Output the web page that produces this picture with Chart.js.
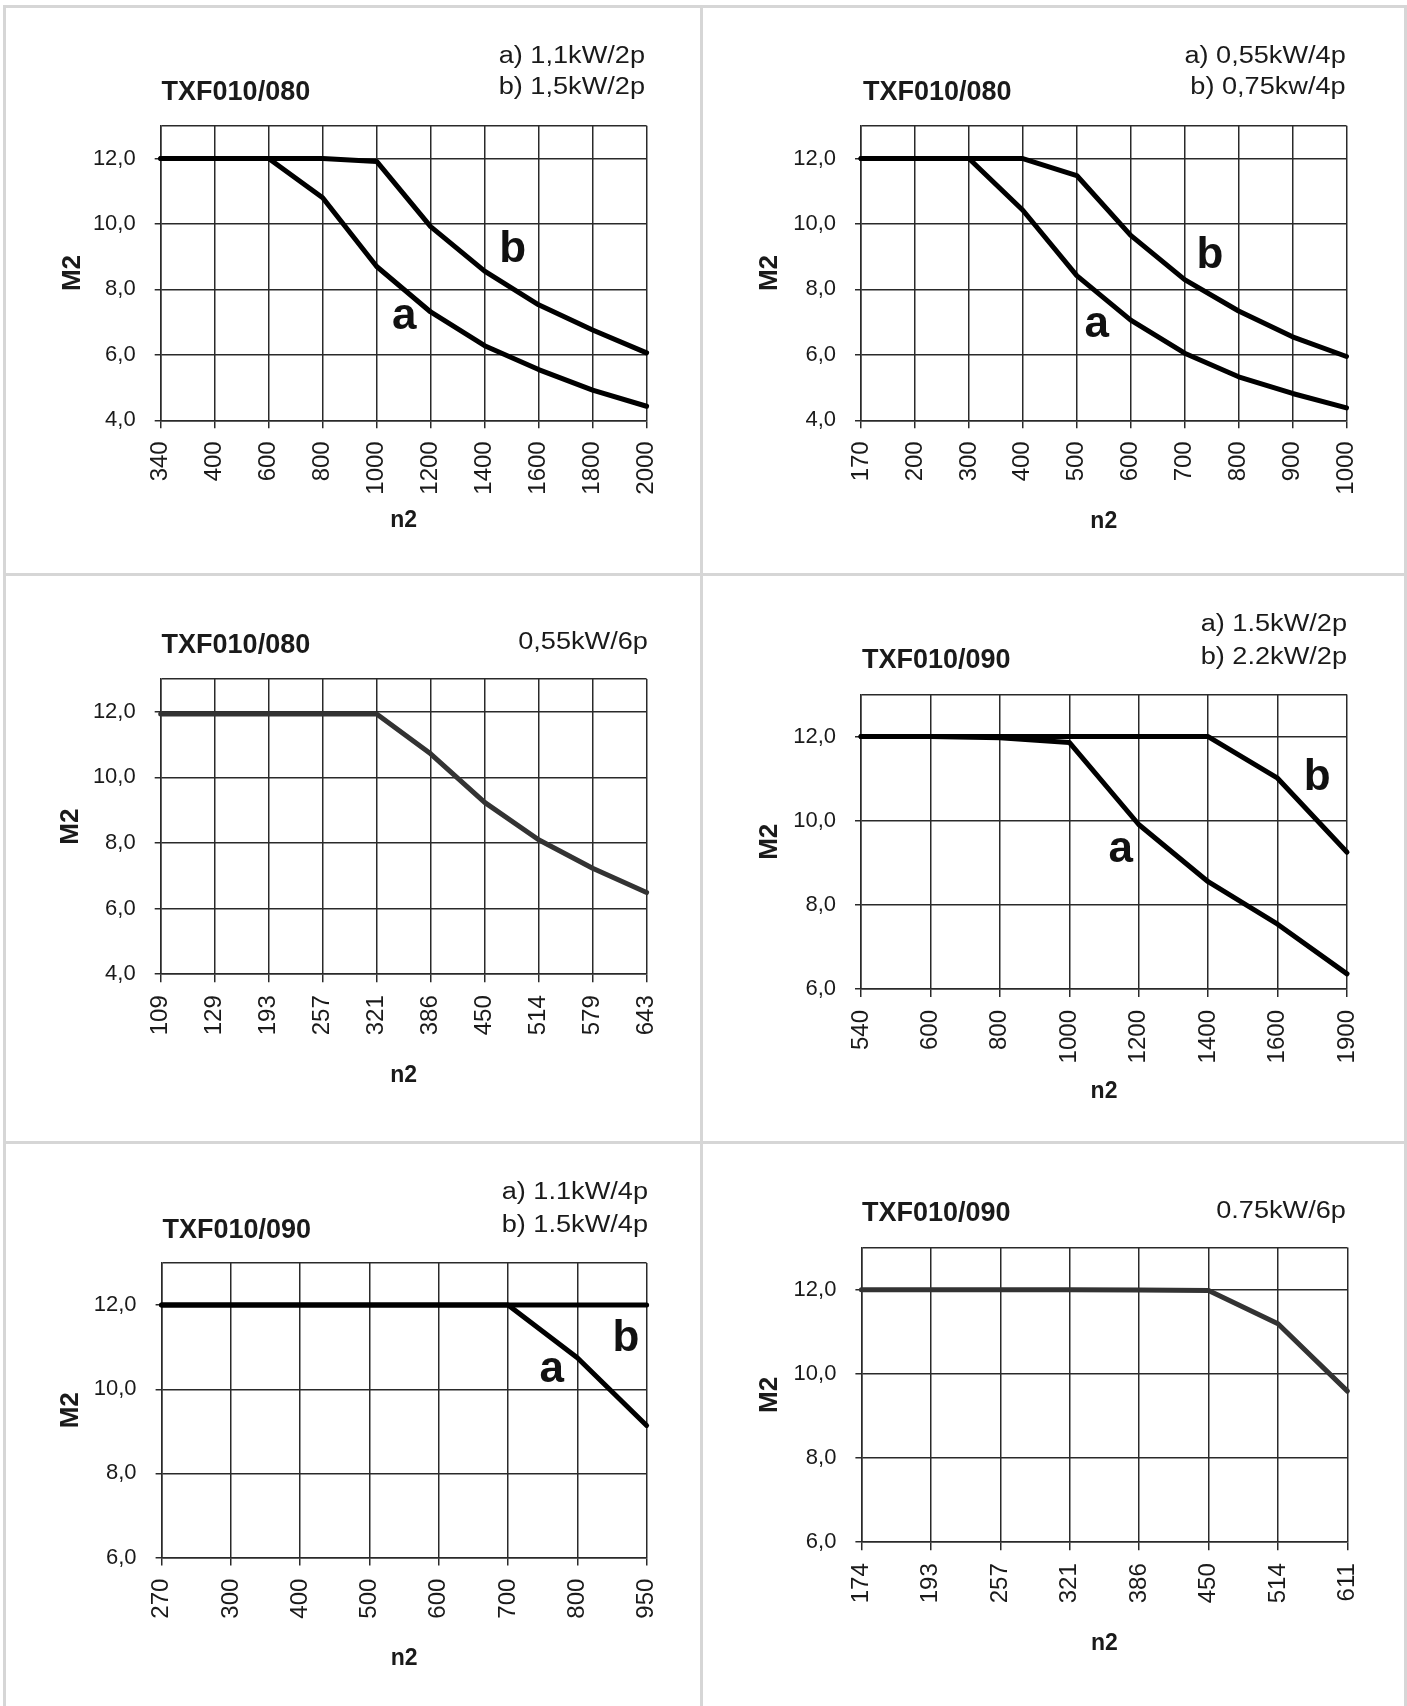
<!DOCTYPE html>
<html>
<head>
<meta charset="utf-8">
<script src="https://cdn.jsdelivr.net/npm/chart.js@4.4.1/dist/chart.umd.min.js"></script>
<style>
  html, body { margin: 0; padding: 0; background: #fff; }
  #page { position: relative; width: 1407px; height: 1706px; overflow: hidden;
          font-family: "Liberation Sans", Arial, sans-serif; color: #1a1a1a; }
  .rule { position: absolute; background: #d6d6d6; }
  .cell { position: absolute; }
  .ttl { position: absolute; font-weight: bold; font-size: 27px; line-height: 27px; white-space: nowrap; }
  .leg { position: absolute; font-size: 23px; line-height: 23px; white-space: nowrap; text-align: right;
         transform: scaleX(1.18); transform-origin: 100% 50%; }
</style>
</head>
<body>
<div id="page"></div>
<script>
// n2 speeds (x categories) and M2 torque values per panel
const speeds1 = [340, 400, 600, 800, 1000, 1200, 1400, 1600, 1800, 2000];
const torque1a = [12, 12, 12, 10.8, 8.7, 7.31, 6.28, 5.55, 4.92, 4.43];
const torque1b = [12, 12, 12, 12, 11.91, 9.92, 8.56, 7.53, 6.76, 6.06];

const speeds2 = [170, 200, 300, 400, 500, 600, 700, 800, 900, 1000];
const torque2a = [12, 12, 12, 10.42, 8.42, 7.06, 6.05, 5.33, 4.82, 4.38];
const torque2b = [12, 12, 12, 12, 11.48, 9.65, 8.3, 7.34, 6.55, 5.95];

const speeds3 = [109, 129, 193, 257, 321, 386, 450, 514, 579, 643];
const torque3 = [11.93, 11.93, 11.93, 11.93, 11.93, 10.72, 9.24, 8.1, 7.23, 6.49];

const speeds4 = [540, 600, 800, 1000, 1200, 1400, 1600, 1900];
const torque4a = [12, 12, 11.97, 11.86, 9.91, 8.55, 7.54, 6.36];
const torque4b = [12, 12, 12, 12, 12, 12, 11.01, 9.25];

const speeds5 = [270, 300, 400, 500, 600, 700, 800, 950];
const torque5a = [12, 12, 12, 12, 12, 12, 10.75, 9.14];
const torque5b = [12, 12, 12, 12, 12, 12, 12, 12];

const speeds6 = [174, 193, 257, 321, 386, 450, 514, 611];
const torque6 = [12, 12, 12, 12, 11.99, 11.98, 11.19, 9.59];

// y ticks (13 is only the top frame line, no label)
const ticksFrom4 = [4, 6, 8, 10, 12, 13];
const ticksFrom6 = [6, 8, 10, 12, 13];

const FONT = '"Liberation Sans", Arial, sans-serif';

// page layout: cells of the 2x3 table
const colX = [6, 703], colW = [694, 701];
const rowY = [8, 576, 1144], rowH = [565, 565, 562];

const panels = [
    { col: 0, row: 0, title: 'TXF010/080', legend: ['a) 1,1kW/2p', 'b) 1,5kW/2p'],
      labels: speeds1, series: [torque1a, torque1b], color: '#000', yTicks: ticksFrom4,
      plot: [160.7, 125.8, 646.6, 420.3], titleAt: [161.6, 100.6], legendAt: [644.5, 63.5, 94],
      n2y: 520.7, m2x: 73,
      marks: [{ text: 'a', at: 4.51, v: 6.80 }, { text: 'b', at: 6.52, v: 8.83 }] },
    { col: 1, row: 0, title: 'TXF010/080', legend: ['a) 0,55kW/4p', 'b) 0,75kw/4p'],
      labels: speeds2, series: [torque2a, torque2b], color: '#000', yTicks: ticksFrom4,
      plot: [861, 125.8, 1346.5, 420.3], titleAt: [863, 100.6], legendAt: [1345.6, 63.5, 94],
      n2y: 521.6, m2x: 770,
      marks: [{ text: 'a', at: 4.37, v: 6.55 }, { text: 'b', at: 6.47, v: 8.65 }] },
    { col: 0, row: 1, title: 'TXF010/080', legend: ['0,55kW/6p'],
      labels: speeds3, series: [torque3], color: '#333', yTicks: ticksFrom4,
      plot: [160.7, 679, 646.6, 974.2], titleAt: [161.6, 653.8], legendAt: [648, 649.4],
      n2y: 1075.6, m2x: 71, marks: [] },
    { col: 1, row: 1, title: 'TXF010/090', legend: ['a) 1.5kW/2p', 'b) 2.2kW/2p'],
      labels: speeds4, series: [torque4a, torque4b], color: '#000', yTicks: ticksFrom6,
      plot: [861, 694.5, 1347, 989], titleAt: [862, 669], legendAt: [1347, 631, 664],
      n2y: 1092, m2x: 770,
      marks: [{ text: 'a', at: 3.74, v: 9.03 }, { text: 'b', at: 6.57, v: 10.72 }] },
    { col: 0, row: 2, title: 'TXF010/090', legend: ['a) 1.1kW/4p', 'b) 1.5kW/4p'],
      labels: speeds5, series: [torque5a, torque5b], color: '#000', yTicks: ticksFrom6,
      plot: [161.6, 1263, 646.6, 1557.6], titleAt: [162.5, 1238.4], legendAt: [647.5, 1199.8, 1232.9],
      n2y: 1659, m2x: 71,
      marks: [{ text: 'a', at: 5.63, v: 10.17 }, { text: 'b', at: 6.70, v: 10.91 }] },
    { col: 1, row: 2, title: 'TXF010/090', legend: ['0.75kW/6p'],
      labels: speeds6, series: [torque6], color: '#333', yTicks: ticksFrom6,
      plot: [861.4, 1247.6, 1347.4, 1542.2], titleAt: [862, 1221.8], legendAt: [1345.6, 1218.2],
      n2y: 1644, m2x: 770, marks: [] },
];

// letters "a" / "b" next to the curves
const curveLetters = {
    id: 'curveLetters',
    afterDatasetsDraw(chart, args, opts) {
        const { ctx, scales: { x, y } } = chart;
        ctx.save();
        ctx.font = 'bold 44px ' + FONT;
        ctx.fillStyle = '#111';
        ctx.textAlign = 'center';
        ctx.textBaseline = 'alphabetic';
        (opts.marks || []).forEach(m => {
            ctx.fillText(m.text, x.getPixelForValue(m.at), y.getPixelForValue(m.v));
        });
        ctx.restore();
    }
};

const page = document.getElementById('page');

function rule(x, y, w, h) {
    const d = document.createElement('div');
    d.className = 'rule';
    d.style.cssText = `left:${x}px;top:${y}px;width:${w}px;height:${h}px`;
    page.appendChild(d);
}

// table frame
rule(3, 5, 1404, 3);
rule(3, 5, 3, 1701);
rule(700, 5, 3, 1701);
rule(1404, 5, 3, 1701);
rule(3, 573, 1404, 3);
rule(3, 1141, 1404, 3);

function addText(cls, text, left, right, baseline, size) {
    const d = document.createElement('div');
    d.className = cls;
    d.textContent = text;
    d.style.top = (baseline - 0.8465 * size) + 'px';
    if (left !== null) d.style.left = left + 'px';
    else d.style.right = (1407 - right) + 'px';
    page.appendChild(d);
}

panels.forEach(p => {
    const cx = colX[p.col], cy = rowY[p.row], cw = colW[p.col], ch = rowH[p.row];
    const [pl, pt, pr, pb] = p.plot;
    const n2Line = 23 * 1.2, m2Line = 26 * 1.2;
    const xBottom = p.n2y + n2Line / 2;

    const wrap = document.createElement('div');
    wrap.className = 'cell';
    wrap.style.cssText = `left:${cx}px;top:${cy}px;width:${cw}px;height:${ch}px`;
    const canvas = document.createElement('canvas');
    canvas.width = cw;
    canvas.height = ch;
    canvas.style.width = cw + 'px';
    canvas.style.height = ch + 'px';
    wrap.appendChild(canvas);
    page.appendChild(wrap);

    addText('ttl', p.title, p.titleAt[0], null, p.titleAt[1], 27);
    p.legend.forEach((t, i) => addText('leg', t, null, p.legendAt[0], p.legendAt[1 + i], 23));

    const yMin = p.yTicks[0], yMax = p.yTicks[p.yTicks.length - 1];

    new Chart(canvas, {
        type: 'line',
        data: {
            labels: p.labels,
            datasets: p.series.map(s => ({
                data: s,
                borderColor: p.color,
                borderWidth: 5,
                pointRadius: 0,
                tension: 0,
                fill: false,
                clip: false,
                borderCapStyle: 'round',
                borderJoinStyle: 'round'
            }))
        },
        options: {
            responsive: false,
            animation: false,
            events: [],
            layout: {
                padding: { left: 0, top: pt - cy, right: cx + cw - pr, bottom: cy + ch - xBottom }
            },
            plugins: {
                legend: { display: false },
                tooltip: { enabled: false },
                curveLetters: { marks: p.marks }
            },
            scales: {
                x: {
                    type: 'category',
                    offset: false,
                    grid: { color: '#2a2a2a', lineWidth: 1.5, tickLength: 8, offset: false },
                    border: { color: '#2a2a2a', width: 1.5 },
                    ticks: {
                        autoSkip: false, maxRotation: 90, minRotation: 90, padding: 13,
                        color: '#1a1a1a', font: { family: FONT, size: 24 }
                    },
                    title: {
                        display: true, text: 'n2', color: '#1a1a1a',
                        font: { family: FONT, size: 23, weight: 'bold' }, padding: 0
                    },
                    afterFit: s => { s.height = xBottom - pb; }
                },
                y: {
                    min: yMin,
                    max: yMax,
                    afterBuildTicks: s => { s.ticks = p.yTicks.map(v => ({ value: v })); },
                    grid: {
                        color: '#2a2a2a', lineWidth: 1.5, tickLength: 6,
                        tickColor: c => (c.tick && c.tick.value === yMax ? 'rgba(0,0,0,0)' : '#2a2a2a')
                    },
                    border: { color: '#2a2a2a', width: 1.5 },
                    ticks: {
                        padding: 19, color: '#1a1a1a', font: { family: FONT, size: 22 },
                        callback: v => (v === yMax ? '' : v.toFixed(1).replace('.', ','))
                    },
                    title: {
                        display: true, text: 'M2', color: '#1a1a1a',
                        font: { family: FONT, size: 26, weight: 'bold' },
                        padding: { top: p.m2x - cx - m2Line / 2, bottom: 0 }
                    },
                    afterFit: s => { s.width = pl - cx; }
                }
            }
        },
        plugins: [curveLetters]
    });
});
</script>
</body>
</html>
